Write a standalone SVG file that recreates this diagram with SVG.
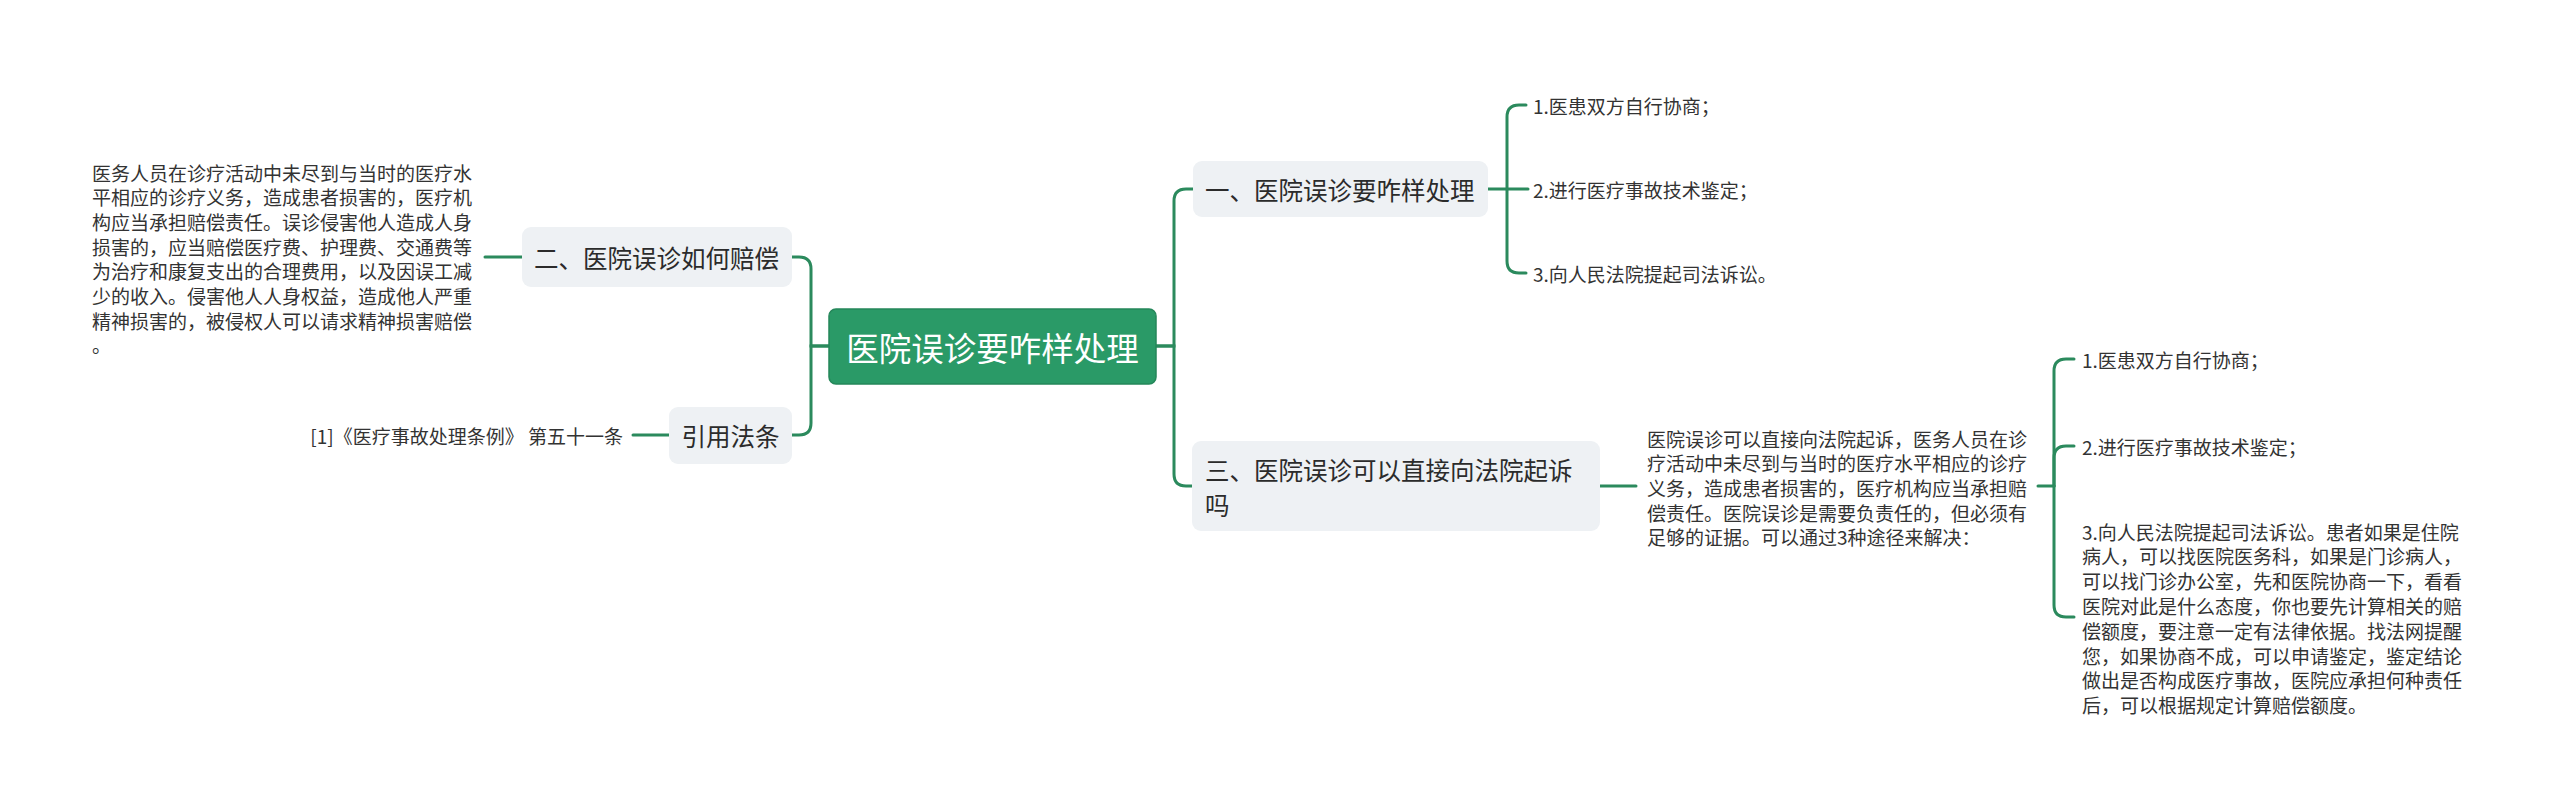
<svg xmlns="http://www.w3.org/2000/svg" width="2560" height="806" viewBox="0 0 2560 806">
<style>
text{font-family:"Noto Sans CJK SC","Noto Sans",sans-serif;dominant-baseline:central;fill:#333333}
.leaf{font-size:19px}
.br{font-size:24.5px;fill:#2b2b2b}
.root{font-size:32.5px;fill:#ffffff}
.box{fill:#eef1f4}
.conn path{fill:none;stroke:#2b8a5d;stroke-width:3;stroke-linecap:round}
</style>
<rect width="2560" height="806" fill="#ffffff"/>
<g class="conn">
<path d="M829 346 H811 V269 Q811 257 799 257 H792"/>
<path d="M829 346 H811 V423 Q811 435 799 435 H792"/>
<path d="M522 257 H485"/>
<path d="M669 435 H633"/>
<path d="M1156 346 H1174 V201 Q1174 189 1186 189 H1193"/>
<path d="M1156 346 H1174 V474 Q1174 486 1186 486 H1192"/>
<path d="M1488 189 H1528"/>
<path d="M1507 189 V117 Q1507 105 1519 105 H1526"/>
<path d="M1507 189 V261 Q1507 273 1519 273 H1526"/>
<path d="M1600 486 H1636"/>
<path d="M2038 486 H2054"/>
<path d="M2054 486 V371 Q2054 359 2066 359 H2074"/>
<path d="M2054 486 V458 Q2054 446 2066 446 H2074"/>
<path d="M2054 486 V605 Q2054 617 2066 617 H2074"/>
</g>
<g id="root">
<rect x="829" y="309" width="327" height="75" rx="7" fill="#2a9a67" stroke="#25875a" stroke-width="1.5"/>
<text class="root" x="992.5" y="346" text-anchor="middle">医院误诊要咋样处理</text>
</g>
<g id="n-left1">
<rect class="box" x="522" y="227" width="270" height="60" rx="9"/>
<text class="br" x="534" y="257">二、医院误诊如何赔偿</text>
</g>
<g id="n-left1-text">
<text class="leaf" x="92" y="172">医务人员在诊疗活动中未尽到与当时的医疗水</text>
<text class="leaf" x="92" y="196.7">平相应的诊疗义务，造成患者损害的，医疗机</text>
<text class="leaf" x="92" y="221.4">构应当承担赔偿责任。误诊侵害他人造成人身</text>
<text class="leaf" x="92" y="246.1">损害的，应当赔偿医疗费、护理费、交通费等</text>
<text class="leaf" x="92" y="270.8">为治疗和康复支出的合理费用，以及因误工减</text>
<text class="leaf" x="92" y="295.5">少的收入。侵害他人人身权益，造成他人严重</text>
<text class="leaf" x="92" y="320.2">精神损害的，被侵权人可以请求精神损害赔偿</text>
<text class="leaf" x="92" y="344.9">。</text>
</g>
<g id="n-left2">
<rect class="box" x="669" y="407" width="123" height="57" rx="9"/>
<text class="br" x="730.5" y="435" text-anchor="middle">引用法条</text>
</g>
<g id="n-left2-text">
<text class="leaf" x="623" y="435" text-anchor="end">[1]《医疗事故处理条例》 第五十一条</text>
</g>
<g id="n-right1">
<rect class="box" x="1193" y="161" width="295" height="56" rx="9"/>
<text class="br" x="1205" y="189">一、医院误诊要咋样处理</text>
</g>
<g id="n-right1-c1"><text class="leaf" x="1533" y="105">1.医患双方自行协商；</text></g>
<g id="n-right1-c2"><text class="leaf" x="1533" y="189">2.进行医疗事故技术鉴定；</text></g>
<g id="n-right1-c3"><text class="leaf" x="1533" y="273">3.向人民法院提起司法诉讼。</text></g>
<g id="n-right2">
<rect class="box" x="1192" y="441" width="408" height="90" rx="9"/>
<text class="br" x="1205" y="469">三、医院误诊可以直接向法院起诉</text>
<text class="br" x="1205" y="504">吗</text>
</g>
<g id="n-right2-text">
<text class="leaf" x="1647" y="438">医院误诊可以直接向法院起诉，医务人员在诊</text>
<text class="leaf" x="1647" y="462.7">疗活动中未尽到与当时的医疗水平相应的诊疗</text>
<text class="leaf" x="1647" y="487.4">义务，造成患者损害的，医疗机构应当承担赔</text>
<text class="leaf" x="1647" y="512.1">偿责任。医院误诊是需要负责任的，但必须有</text>
<text class="leaf" x="1647" y="536.8">足够的证据。可以通过3种途径来解决：</text>
</g>
<g id="n-right2-c1"><text class="leaf" x="2082" y="359">1.医患双方自行协商；</text></g>
<g id="n-right2-c2"><text class="leaf" x="2082" y="446">2.进行医疗事故技术鉴定；</text></g>
<g id="n-right2-c3">
<text class="leaf" x="2082" y="531">3.向人民法院提起司法诉讼。患者如果是住院</text>
<text class="leaf" x="2082" y="555.8">病人，可以找医院医务科，如果是门诊病人，</text>
<text class="leaf" x="2082" y="580.6">可以找门诊办公室，先和医院协商一下，看看</text>
<text class="leaf" x="2082" y="605.4">医院对此是什么态度，你也要先计算相关的赔</text>
<text class="leaf" x="2082" y="630.2">偿额度，要注意一定有法律依据。找法网提醒</text>
<text class="leaf" x="2082" y="655">您，如果协商不成，可以申请鉴定，鉴定结论</text>
<text class="leaf" x="2082" y="679.8">做出是否构成医疗事故，医院应承担何种责任</text>
<text class="leaf" x="2082" y="704.6">后，可以根据规定计算赔偿额度。</text>
</g>
</svg>
